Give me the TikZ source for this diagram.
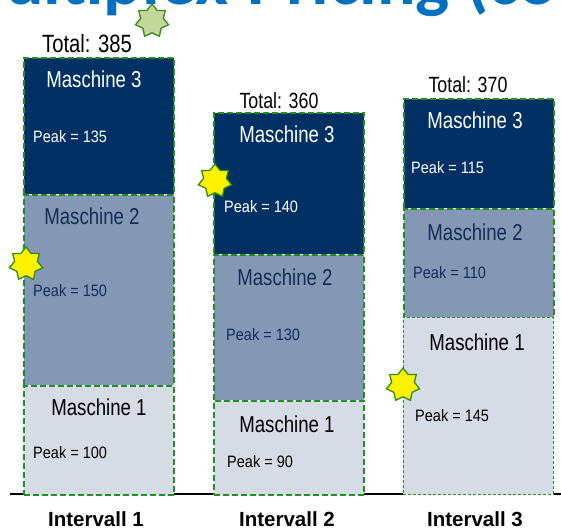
\documentclass[tikz,border=0pt]{standalone}
\usepackage{fontspec}
\usetikzlibrary{shapes.geometric}
\setmainfont{Liberation Sans}
\newfontfamily\mfont[FakeStretch=0.81]{Liberation Sans}
\newfontfamily\pfont[FakeStretch=0.88]{Liberation Sans}
\newfontfamily\tfont{Carlito}
\definecolor{cthree}{RGB}{0,48,100}
\definecolor{ctwo}{RGB}{132,151,180}
\definecolor{cone}{RGB}{214,220,229}
\definecolor{bgreen}{RGB}{30,145,30}
\definecolor{sgreen}{RGB}{50,140,30}
\definecolor{lgreen}{RGB}{196,215,155}
\definecolor{ttl}{RGB}{0,112,192}
\definecolor{navytxt}{RGB}{23,45,85}
\tikzset{
  mbox/.style={draw=bgreen, line width=1.5pt, dash pattern=on 6pt off 3pt, preaction={draw=white, line width=1.2pt, solid}, minimum width=150pt, anchor=north west, inner sep=0pt},
  mlabel/.style={inner sep=0pt, anchor=base, font=\mfont\fontsize{23}{23}\selectfont},
  tlabel/.style={inner sep=0pt, anchor=base, font=\mfont\fontsize{22}{22}\selectfont},
  plabel/.style={inner sep=0pt, anchor=base west, font=\pfont\fontsize{16.5}{16.5}\selectfont},
  ilabel/.style={inner sep=0pt, anchor=base, font=\bfseries\fontsize{20.5}{20.5}\selectfont},
  sevenstar/.style={star, star points=7, star point ratio=1.45, minimum size=34pt, inner sep=0pt, draw=sgreen, line width=1.3pt},
}
\begin{document}
\begin{tikzpicture}[x=1pt,y=-1pt]
\useasboundingbox (0,0) rectangle (561,530);
\begin{scope}
\clip (0,0) rectangle (561,530);
\node[inner sep=0pt, anchor=base west, text=ttl, font=\tfont\bfseries\fontsize{72}{72}\selectfont] (title) at (-58,5) {Multiplex-Pricing (cont.)};
\end{scope}
% axis
\coordinate (axl) at (10,494);
\coordinate (axr) at (561,494);
\draw[line width=1.3pt] (axl) -- (axr);
% column 1
\node[mbox, fill=cthree, minimum height=137pt] (a3) at (23,57) {};
\node[mbox, fill=ctwo, minimum height=191pt] (a2) at (23,194) {};
\node[mbox, fill=cone, minimum height=109pt] (a1) at (23,385) {};
% column 2
\node[mbox, fill=cthree, minimum height=142pt] (b3) at (213,112) {};
\node[mbox, fill=ctwo, minimum height=146pt] (b2) at (213,254) {};
\node[mbox, fill=cone, minimum height=94pt] (b1) at (213,400) {};
% column 3
\node[mbox, fill=cthree, minimum height=110pt] (c3) at (403,98) {};
\node[mbox, fill=ctwo, minimum height=109pt] (c2) at (403,208) {};
\node[mbox, fill=cone, minimum height=177pt, line width=0.9pt, dash pattern=on 3pt off 2pt] (c1) at (403,317) {};
% totals
\node[tlabel, font=\mfont\fontsize{25}{25}\selectfont] (t1) at (87,52) {Total: 385};
\node[tlabel] (t2) at (279,108) {Total: 360};
\node[tlabel] (t3) at (468,92) {Total: 370};
% machine labels
\node[mlabel, text=white] (a3l) at (94,87) {Maschine 3};
\node[mlabel, text=navytxt] (a2l) at (92,224) {Maschine 2};
\node[mlabel, text=black] (a1l) at (99,415) {Maschine 1};
\node[mlabel, text=white] (b3l) at (287,142) {Maschine 3};
\node[mlabel, text=navytxt] (b2l) at (285,285) {Maschine 2};
\node[mlabel, text=black] (b1l) at (287,432) {Maschine 1};
\node[mlabel, text=white] (c3l) at (475,128) {Maschine 3};
\node[mlabel, text=navytxt] (c2l) at (475,240) {Maschine 2};
\node[mlabel, text=black] (c1l) at (477,350) {Maschine 1};
% peaks
\node[plabel, text=white] (a3p) at (33,142) {Peak = 135};
\node[plabel, text=navytxt] (a2p) at (33,296) {Peak = 150};
\node[plabel, text=black] (a1p) at (33,458) {Peak = 100};
\node[plabel, text=white] (b3p) at (224,212) {Peak = 140};
\node[plabel, text=navytxt] (b2p) at (226,340) {Peak = 130};
\node[plabel, text=black] (b1p) at (227,467) {Peak = 90};
\node[plabel, text=white] (c3p) at (411,173) {Peak = 115};
\node[plabel, text=navytxt] (c2p) at (413,278) {Peak = 110};
\node[plabel, text=black] (c1p) at (415,421) {Peak = 145};
% intervals
\node[ilabel] (i1) at (96,526) {Intervall 1};
\node[ilabel] (i2) at (287,526) {Intervall 2};
\node[ilabel] (i3) at (475,526) {Intervall 3};
% stars
\node[sevenstar, fill=lgreen] (s0) at (152,21) {};
\node[sevenstar, fill=yellow] (s1) at (26,264) {};
\node[sevenstar, fill=yellow] (s2) at (215,181) {};
\node[sevenstar, fill=yellow] (s3) at (403,385) {};
\end{tikzpicture}
\end{document}
